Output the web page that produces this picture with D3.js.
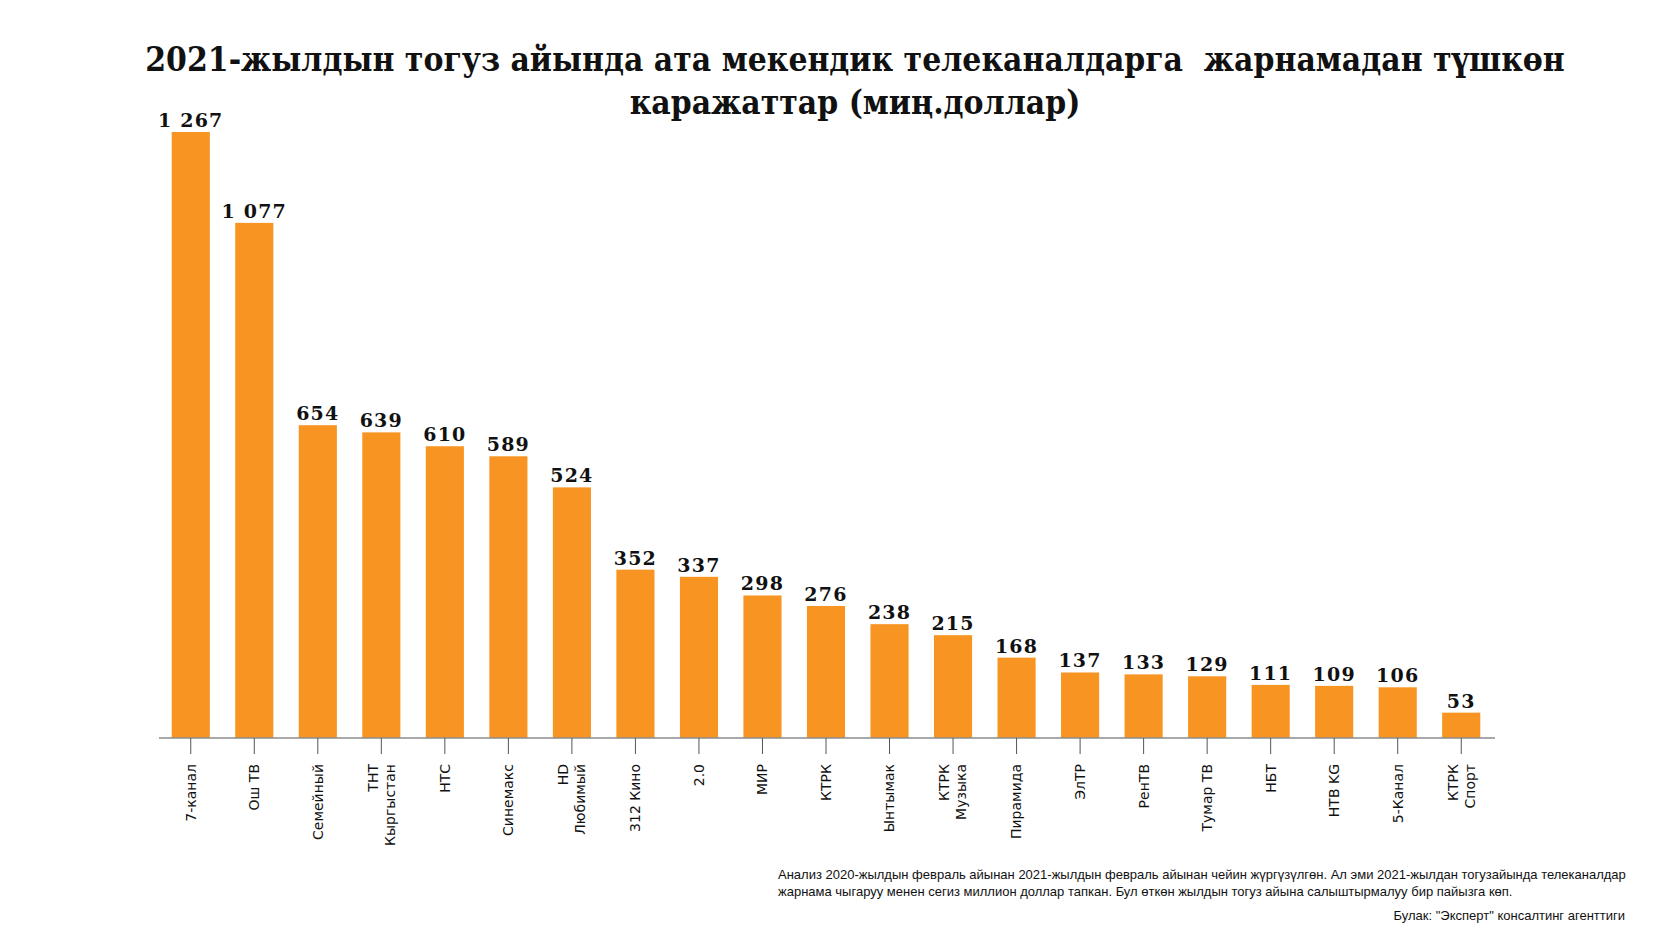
<!DOCTYPE html>
<html>
<head>
<meta charset="utf-8">
<script src="https://cdn.jsdelivr.net/npm/d3@7"></script>
<style>
  body { margin: 0; background: #fff; }
  svg { display: block; }
</style>
</head>
<body>
<div id="container"></div>
<script>
// channels and their ad income, thousand dollars
const channels = [
  ["7-канал"], ["Ош ТВ"], ["Семейный"], ["ТНТ", "Кыргыстан"], ["НТС"], ["Синемакс"],
  ["HD", "Любимый"], ["312 Кино"], ["2.0"], ["МИР"], ["КТРК"], ["Ынтымак"],
  ["КТРК", "Музыка"], ["Пирамида"], ["ЭлТР"], ["РенТВ"], ["Тумар ТВ"], ["НБТ"],
  ["НТВ KG"], ["5-Канал"], ["КТРК", "Спорт"]
]
const income = [1267, 1077, 654, 639, 610, 589, 524, 352, 337, 298, 276, 238, 215, 168, 137, 133, 129, 111, 109, 106, 53]

const titleLines = [
  "2021-жылдын тогуз айында ата мекендик телеканалдарга  жарнамадан түшкөн",
  "каражаттар (миң.доллар)"
]
const noteLines = [
  "Анализ 2020-жылдын февраль айынан 2021-жылдын февраль айынан чейин жүргүзүлгөн. Ал эми 2021-жылдан тогузайында телеканалдар",
  "жарнама чыгаруу менен сегиз миллион доллар тапкан. Бул өткөн жылдын тогуз айына салыштырмалуу бир пайызга көп."
]
const sourceText = "Булак: \"Эксперт\" консалтинг агенттиги"

const w = 1667
const h = 938

const svg = d3.select("#container")
  .append("svg")
  .attr("width", w)
  .attr("height", h)

const x = d3.scaleBand()
  .domain(d3.range(channels.length))
  .range([159, 1493])
  .paddingInner(0.4)
  .paddingOuter(0.2)

const y = d3.scaleLinear()
  .domain([0, d3.max(income)])
  .range([738, 132])

const fmt = (v) => d3.format(",")(v).replace(/,/g, " ")

// title
svg.append("text")
  .attr("text-anchor", "middle")
  .attr("font-family", "'DejaVu Serif', 'Liberation Serif', serif")
  .attr("font-stretch", "condensed")
  .attr("font-weight", "bold")
  .attr("font-size", 33.3)
  .attr("fill", "#111")
  .selectAll("tspan")
  .data(titleLines)
  .enter()
  .append("tspan")
  .attr("x", 855)
  .attr("y", (d, i) => 71 + i * 43)
  .style("white-space", "pre")
  .text((d) => d)

// bars
svg.selectAll("rect.bar")
  .data(income)
  .enter()
  .append("rect")
  .attr("class", "bar")
  .attr("x", (d, i) => x(i))
  .attr("y", (d) => y(d))
  .attr("width", x.bandwidth())
  .attr("height", (d) => y(0) - y(d))
  .attr("fill", "#F89422")

// value labels
svg.selectAll("text.value")
  .data(income)
  .enter()
  .append("text")
  .attr("class", "value")
  .attr("x", (d, i) => x(i) + x.bandwidth() / 2)
  .attr("y", (d) => y(d) - 5)
  .attr("text-anchor", "middle")
  .attr("font-family", "'DejaVu Serif', serif")
  .attr("font-weight", "bold")
  .attr("font-size", 19)
  .attr("letter-spacing", 1.2)
  .attr("fill", "#111")
  .text((d) => fmt(d))

// x axis
const axis = svg.append("g")
  .attr("transform", `translate(0,${y(0)})`)
  .call(d3.axisBottom(x).tickSize(16).tickFormat(""))

axis.select(".domain")
  .attr("stroke", "#8c8c8c")
  .attr("stroke-width", 1.5)
  .attr("d", "M159,0H1495")
axis.selectAll(".tick line").attr("stroke", "#555")

// rotated category labels
channels.forEach((lines, i) => {
  const cx = x(i) + x.bandwidth() / 2
  const g = svg.append("g")
    .attr("transform", `translate(${cx},764) rotate(-90)`)
  lines.forEach((t, j) => {
    g.append("text")
      .attr("x", 0)
      .attr("y", (j - (lines.length - 1) / 2) * 17)
      .attr("dy", "0.35em")
      .attr("text-anchor", "end")
      .attr("font-family", "'DejaVu Sans', sans-serif")
      .attr("font-size", 14)
      .attr("fill", "#111")
      .text(t)
  })
})

// note and source
svg.selectAll("text.note")
  .data(noteLines)
  .enter()
  .append("text")
  .attr("class", "note")
  .attr("x", 778)
  .attr("y", (d, i) => 879 + i * 17)
  .attr("font-family", "'Liberation Sans', Arial, sans-serif")
  .attr("font-size", 13)
  .attr("fill", "#111")
  .text((d) => d)

svg.append("text")
  .attr("x", 1625)
  .attr("y", 920)
  .attr("text-anchor", "end")
  .attr("font-family", "'Liberation Sans', Arial, sans-serif")
  .attr("font-size", 13)
  .attr("fill", "#111")
  .text(sourceText)
</script>
</body>
</html>
